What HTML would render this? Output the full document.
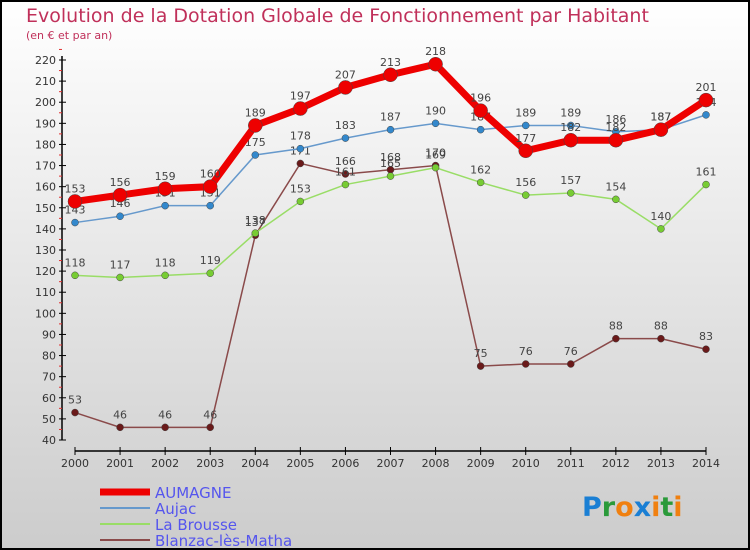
<!DOCTYPE html>
<html><head><meta charset="utf-8"><style>
body{margin:0;}
svg{display:block;font-family:"DejaVu Sans","Liberation Sans",sans-serif;}
</style></head><body>
<svg id="c" width="750" height="550" xmlns="http://www.w3.org/2000/svg">
<defs><linearGradient id="bg" x1="0" y1="0" x2="0" y2="1"><stop offset="0" stop-color="#ffffff"/><stop offset="1" stop-color="#cccccc"/></linearGradient></defs>
<rect x="1" y="1" width="748" height="548" fill="url(#bg)" stroke="#000" stroke-width="2"/>
<text x="26" y="22" font-size="19" fill="#c0305a">Evolution de la Dotation Globale de Fonctionnement par Habitant</text>
<text x="26" y="39" font-size="11" fill="#c0305a">(en € et par an)</text>
<g id="axes"></g><g id="series"></g><g id="legend"></g>
<text x="582" y="516" font-size="27" font-weight="bold"><tspan fill="#1a7fd4">P</tspan><tspan fill="#2a9a3a">r</tspan><tspan fill="#f08010">o</tspan><tspan fill="#1a7fd4">x</tspan><tspan fill="#f08010">i</tspan><tspan fill="#2a9a3a">t</tspan><tspan fill="#f08010">i</tspan></text>
</svg>
<script>
const years=[2000,2001,2002,2003,2004,2005,2006,2007,2008,2009,2010,2011,2012,2013,2014];
const aumagne=[153,156,159,160,189,197,207,213,218,196,177,182,182,187,201];
const aujac=[143,146,151,151,175,178,183,187,190,187,189,189,186,187,194];
const laBrousse=[118,117,118,119,138,153,161,165,169,162,156,157,154,140,161];
const blanzac=[53,46,46,46,137,171,166,168,170,75,76,76,88,88,83];
const yTicks=[40,50,60,70,80,90,100,110,120,130,140,150,160,170,180,190,200,210,220];
const NS="http://www.w3.org/2000/svg";
const X=i=>75+i*(706-75)/(years.length-1);
const Y=v=>440-(v-40)*(440-60)/180;
function mk(t,a,p){const e=document.createElementNS(NS,t);for(const k in a)e.setAttribute(k,a[k]);p.appendChild(e);return e;}
const ax=document.getElementById('axes');
let yl=mk('line',{x1:62,y1:56,x2:62,y2:440,stroke:'#000','stroke-width':1.5},ax);


yTicks.forEach(v=>{
  mk('line',{x1:59,y1:Y(v),x2:66,y2:Y(v),stroke:'#000'},ax);
  mk('line',{x1:59,y1:Y(v+5),x2:62,y2:Y(v+5),stroke:'#e03030'},ax);
  const t=mk('text',{x:56,y:Y(v)+4,'font-size':11,'text-anchor':'end',fill:'#333'},ax);t.textContent=v;
  
  
});
let xl=mk('line',{x1:75,y1:451,x2:706,y2:451,stroke:'#000','stroke-width':1.5},ax);


years.forEach((y,i)=>{
  mk('line',{x1:X(i),y1:447,x2:X(i),y2:455,stroke:'#000'},ax);
  const t=mk('text',{x:X(i),y:467,'font-size':11,'text-anchor':'middle',fill:'#333'},ax);t.textContent=y;
  
  
});
const sg=document.getElementById('series');
const defs=[
 {d:blanzac,c:'#8a4a4a',dot:'#6a1a1a',w:1.5,r:3.5,n:'blanzac'},
 {d:laBrousse,c:'#99dd66',dot:'#77cc33',w:1.5,r:3.5,n:'la-brousse'},
 {d:aujac,c:'#6699cc',dot:'#3388cc',w:1.5,r:3.5,n:'aujac'},
 {d:aumagne,c:'#ee0000',dot:'#ee0000',w:7,r:7,n:'aumagne'}];
defs.forEach(s=>{
  const p=mk('polyline',{points:s.d.map((v,i)=>X(i)+','+Y(v)).join(' '),fill:'none',stroke:s.c,'stroke-width':s.w},sg);
  
  
  s.d.forEach((v,i)=>{
    const c=mk('circle',{cx:X(i),cy:Y(v),r:s.r,fill:s.dot,stroke:'#444','stroke-width':0.5},sg);
    
    
    const t=mk('text',{x:X(i),y:Y(v)-9,'font-size':11,'text-anchor':'middle',fill:'#444'},sg);t.textContent=v;
    
    
  });
});
const lg=document.getElementById('legend');
[['AUMAGNE','#ee0000',7],['Aujac','#6699cc',2],['La Brousse','#99dd66',2],['Blanzac-lès-Matha','#8a4a4a',2]].forEach((e,i)=>{
  const y=492+i*16;
  const l=mk('line',{x1:100,y1:y,x2:150,y2:y,stroke:e[1],'stroke-width':e[2]},lg);
  
  
  const t=mk('text',{x:155,y:y+6,'font-size':15,fill:'#5555ee'},lg);t.textContent=e[0];
  
  
});
</script>
</body></html>
